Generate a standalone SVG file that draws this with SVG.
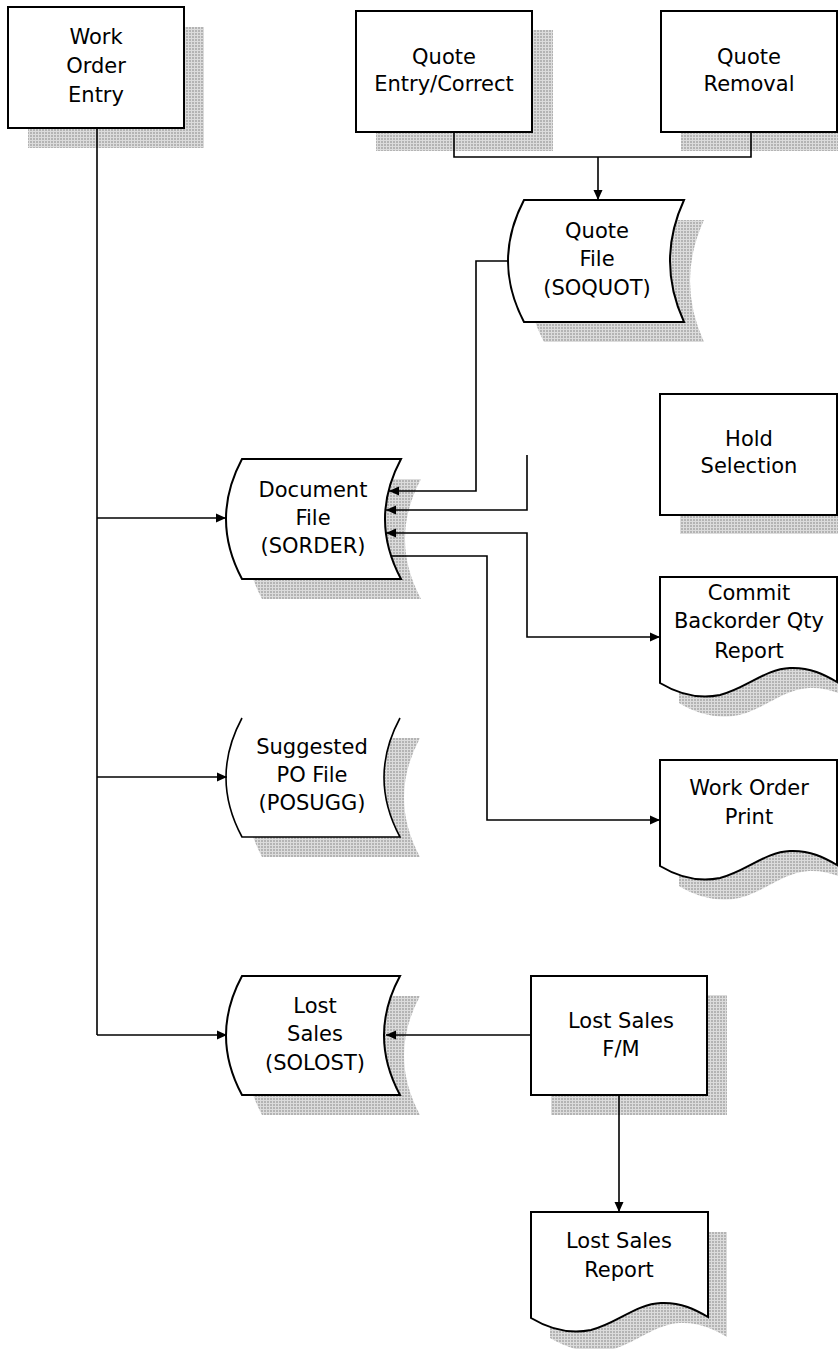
<svg xmlns="http://www.w3.org/2000/svg" width="838" height="1349" viewBox="0 0 838 1349">
<style>
.box{fill:#fff;stroke:#000;stroke-width:2}
.sh{fill:url(#dots);stroke:none}
.ln{fill:none;stroke:#000;stroke-width:1.6}
.wf{fill:#fff;stroke:none}
text{font-family:"DejaVu Sans","Liberation Sans",sans-serif;font-size:21px;fill:#000;text-anchor:middle}
</style>
<defs>
<pattern id="dots" width="3" height="3" patternUnits="userSpaceOnUse"><rect width="3" height="3" fill="#dcdcdc"/><rect width="2" height="2" fill="#b4b4b4"/></pattern>
<marker id="ah" markerWidth="10" markerHeight="10" refX="10" refY="5" orient="auto-start-reverse" markerUnits="userSpaceOnUse"><path d="M0,0.5 L10,5 L0,9.5 z" fill="#000"/></marker>
<path id="doc" d="M0,0 H177 V105 C165,98 150,90 130,91 C105,92 85,112 60,118 C40,122 20,118 0,106 Z"/>
</defs>

<g id="work-order-entry">
<rect class="sh" x="28" y="27" width="176" height="121"/>
<rect class="box" x="8" y="7" width="176" height="121"/>
<text x="96" y="44">Work</text><text x="96" y="73">Order</text><text x="96" y="102">Entry</text>
</g>

<g id="quote-entry-correct">
<rect class="sh" x="376" y="30" width="177" height="121"/>
<rect class="box" x="356" y="11" width="176" height="121"/>
<text x="444" y="64">Quote</text><text x="444" y="91">Entry/Correct</text>
</g>

<g id="quote-removal">
<rect class="sh" x="681" y="30" width="177" height="121"/>
<rect class="box" x="661" y="11" width="176" height="121"/>
<text x="749" y="64">Quote</text><text x="749" y="91">Removal</text>
</g>

<g id="quote-file">
<path class="sh" d="M544,220 H704 Q676,281 704,342 H544 Q512,281 544,220 Z"/>
<path class="box" stroke-width="1.6" d="M524,200 H684 Q656,261 684,322 H524 Q492,261 524,200 Z"/>
<text x="597" y="238">Quote</text><text x="597" y="266">File</text><text x="597" y="295">(SOQUOT)</text>
</g>

<g id="hold-selection">
<rect class="sh" x="680" y="413" width="177" height="121"/>
<rect class="box" x="660" y="394" width="177" height="121"/>
<text x="749" y="446">Hold</text><text x="749" y="473">Selection</text>
</g>

<g id="document-file">
<path class="sh" d="M262,479 H421 Q389,539 421,599 H262 Q230,539 262,479 Z"/>
<path class="box" stroke-width="1.6" d="M242,459 H401 Q369,519 401,579 H242 Q210,519 242,459 Z"/>
<text x="313" y="497">Document</text><text x="313" y="525">File</text><text x="313" y="553">(SORDER)</text>
</g>

<g id="commit-backorder-qty-report">
<use href="#doc" class="sh" x="679" y="597"/>
<use href="#doc" class="box" x="660" y="577" stroke-width="1.6"/>
<text x="749" y="600">Commit</text><text x="749" y="628">Backorder Qty</text><text x="749" y="658">Report</text>
</g>

<g id="suggested-po-file">
<path class="sh" d="M262,738 H420 Q388,797.5 420,857 H262 Q230,797.5 262,738 Z"/>
<path class="wf" d="M242,718 H400 Q368,777.5 400,837 H242 Q210,777.5 242,718 Z"/>
<path class="ln" d="M242,718 Q210,777.5 242,837 H400 Q368,777.5 400,718"/>
<text x="312" y="754">Suggested</text><text x="312" y="782">PO File</text><text x="312" y="810">(POSUGG)</text>
</g>

<g id="work-order-print">
<use href="#doc" class="sh" x="679" y="780"/>
<use href="#doc" class="box" x="660" y="760" stroke-width="1.6"/>
<text x="749" y="795">Work Order</text><text x="749" y="824">Print</text>
</g>

<g id="lost-sales-file">
<path class="sh" d="M262,996 H420 Q388,1055.5 420,1115 H262 Q230,1055.5 262,996 Z"/>
<path class="box" stroke-width="1.6" d="M242,976 H400 Q368,1035.5 400,1095 H242 Q210,1035.5 242,976 Z"/>
<text x="315" y="1013">Lost</text><text x="315" y="1041">Sales</text><text x="315" y="1070">(SOLOST)</text>
</g>

<g id="lost-sales-fm">
<rect class="sh" x="551" y="995" width="176" height="120"/>
<rect class="box" x="531" y="976" width="176" height="119"/>
<text x="621" y="1028">Lost Sales</text><text x="621" y="1056">F/M</text>
</g>

<g id="lost-sales-report">
<use href="#doc" class="sh" x="550" y="1232"/>
<use href="#doc" class="box" x="531" y="1212" stroke-width="1.6"/>
<text x="619" y="1248">Lost Sales</text><text x="619" y="1277">Report</text>
</g>

<g id="connectors">
<path class="ln" d="M97,128 V1035"/>
<path class="ln" d="M97,518 H226" marker-end="url(#ah)"/>
<path class="ln" d="M97,777 H227" marker-end="url(#ah)"/>
<path class="ln" d="M97,1035 H227" marker-end="url(#ah)"/>
<path class="ln" d="M454,132 V157 H751 V132"/>
<path class="ln" d="M598,157 V200" marker-end="url(#ah)"/>
<path class="ln" d="M508,261 H476 V491 H389" marker-end="url(#ah)"/>
<path class="ln" d="M527,455 V510 H386" marker-end="url(#ah)"/>
<path class="ln" d="M386,533 H527 V637 H660" marker-start="url(#ah)" marker-end="url(#ah)"/>
<path class="ln" d="M391,556 H487 V820 H660" marker-end="url(#ah)"/>
<path class="ln" d="M531,1035 H386" marker-end="url(#ah)"/>
<path class="ln" d="M619,1095 V1212" marker-end="url(#ah)"/>
</g>
</svg>
